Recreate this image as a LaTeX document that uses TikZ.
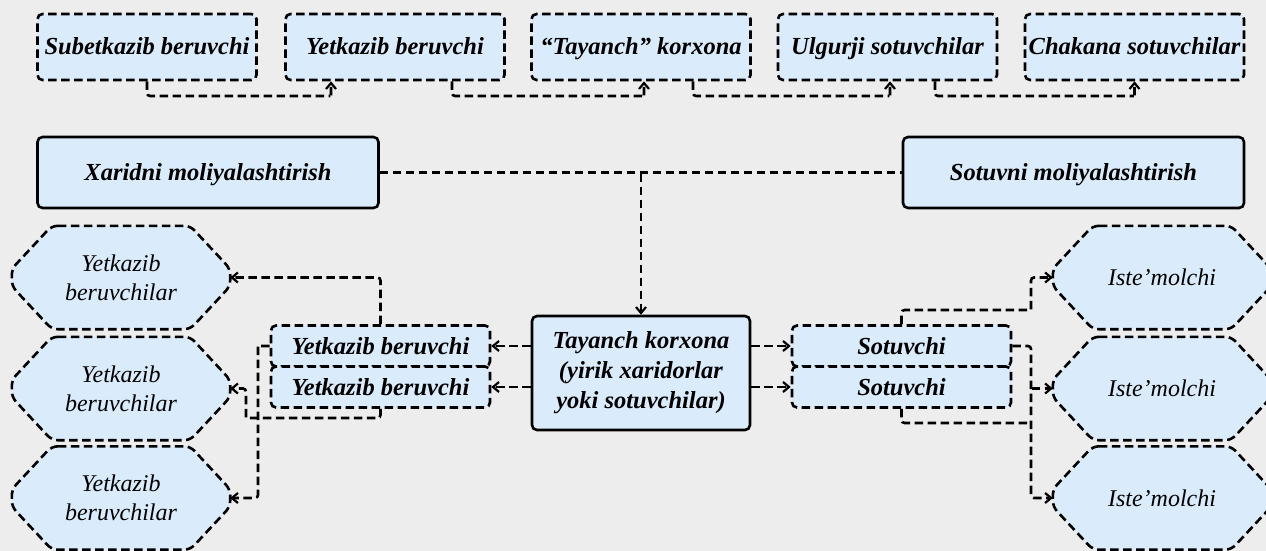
\documentclass[tikz,border=0pt]{standalone}
\usepackage{fontspec}
\setmainfont{Liberation Serif}
\usepackage{tikz}
\usetikzlibrary{arrows.meta}
\pgfdeclarelayer{bglayer}
\pgfdeclarelayer{shapelayer}
\pgfsetlayers{bglayer,shapelayer,main}
\tikzstyle{none}=[inner sep=0pt]
\definecolor{hexcolor0xdaebfc}{rgb}{0.855,0.922,0.988}
\definecolor{hexcolor0xededee}{rgb}{0.929,0.929,0.933}
\definecolor{myblack}{rgb}{0.000,0.000,0.000}
\tikzstyle{dashline}=[line width=2.6pt,dash pattern=on 8.5pt off 4.5pt]
\tikzstyle{chain}=[dashline,fill=hexcolor0xdaebfc,draw=myblack,rounded corners=5pt,minimum width=219pt,font=\fontsize{24.5}{30}\selectfont\bfseries\itshape,inner sep=0pt,text height=20pt,text depth=4pt]
\tikzstyle{finance}=[chain,solid,line width=2.6pt,minimum width=341pt,minimum height=71pt]
\tikzstyle{party}=[rectangle,minimum width=218pt,minimum height=103pt,inner sep=0pt,align=center,font=\fontsize{24}{29}\selectfont\itshape]
\tikzstyle{hexline}=[dashline,fill=hexcolor0xdaebfc,draw=myblack,rounded corners=6pt]
\tikzstyle{flow}=[dashline,draw=myblack,rounded corners=3pt]
\tikzstyle{flowto}=[flow,-{Straight Barb[length=6pt,width=10pt,line width=2.2pt]}]

\begin{document}
\begin{tikzpicture}[x=1pt,y=-1pt]
\useasboundingbox (0,0) rectangle (1266,551);
\begin{pgfonlayer}{bglayer}
\fill [hexcolor0xededee] (0,0) rectangle (1266,551);
\end{pgfonlayer}
		\node [style=chain,minimum height=66pt] (0) at (147, 47) {Subetkazib beruvchi};
		\node [style=chain,minimum height=66pt] (1) at (395, 47) {Yetkazib beruvchi};
		\node [style=chain,minimum height=66pt] (2) at (641, 47) {“Tayanch” korxona};
		\node [style=chain,minimum height=66pt] (3) at (887.5, 47) {Ulgurji sotuvchilar};
		\node [style=chain,minimum height=66pt] (4) at (1134.5, 47) {Chakana sotuvchilar};
		\node [style=finance] (5) at (208, 172.5) {Xaridni moliyalashtirish};
		\node [style=finance] (6) at (1073.5, 172.5) {Sotuvni moliyalashtirish};
		\node [style=finance,minimum width=218pt,minimum height=114pt,align=center,text height=,text depth=,font=\fontsize{24.5}{30}\selectfont\bfseries\itshape] (7) at (641, 373) {Tayanch korxona\\(yirik xaridorlar\\yoki sotuvchilar)};
		\node [style=chain,minimum height=41pt] (8) at (380.5, 346) {Yetkazib beruvchi};
		\node [style=chain,minimum height=41pt] (9) at (380.5, 387) {Yetkazib beruvchi};
		\node [style=party] (10) at (121, 277.5) {Yetkazib\\beruvchilar};
		\node [style=party] (11) at (121, 388.5) {Yetkazib\\beruvchilar};
		\node [style=party] (12) at (121, 498) {Yetkazib\\beruvchilar};
		\node [style=chain,minimum height=41pt] (13) at (901.5, 346) {Sotuvchi};
		\node [style=chain,minimum height=41pt] (14) at (901.5, 387) {Sotuvchi};
		\node [style=party] (15) at (1162, 277.5) {Iste’molchi};
		\node [style=party] (16) at (1162, 388.5) {Iste’molchi};
		\node [style=party] (17) at (1162, 498) {Iste’molchi};
\begin{pgfonlayer}{shapelayer}
\foreach \n in {10,11,12,15,16,17}
	\draw [style=hexline] ([xshift=40pt]\n.north west) -- ([xshift=-40pt]\n.north east) -- ([yshift=-43pt]\n.north east) -- ([yshift=43pt]\n.south east) -- ([xshift=-40pt]\n.south east) -- ([xshift=40pt]\n.south west) -- ([yshift=43pt]\n.south west) -- ([yshift=-43pt]\n.north west) -- cycle;
\end{pgfonlayer}
% bends
\node [none] (v1) at (331, 96) {};
\node [none] (v2) at (644, 96) {};
\node [none] (v3) at (890, 96) {};
\node [none] (v4) at (1134.5, 96) {};
\node [none] (v5) at (641, 173) {};
\node [none] (v6) at (246, 418) {};
\node [none] (v7) at (258, 346) {};
\node [none] (v8) at (1031, 310) {};
\node [none] (v9) at (1031, 420) {};
\node [none] (v10) at (1031, 423) {};
\node [none] (v11) at (1031, 388.5) {};
		\draw [style=flowto] (0.south) |- (v1) -- (v1 |- 1.south);
		\draw [style=flowto] ([xshift=57pt]1.south) |- (v2) -- (v2 |- 2.south);
		\draw [style=flowto] ([xshift=52pt]2.south) |- (v3) -- (v3 |- 3.south);
		\draw [style=flowto] ([xshift=47.5pt]3.south) |- (v4) -- (4.south);
		\draw [style=flow] (5.east) to (6.west);
		\draw [style=flowto] (v5) to (7.north);
		\draw [style=flowto] (7.west |- 8.east) to (8.east);
		\draw [style=flowto] (7.west |- 9.east) to (9.east);
		\draw [style=flowto] (7.east |- 13.west) to (13.west);
		\draw [style=flowto] (7.east |- 14.west) to (14.west);
		\draw [style=flowto] (8.north) |- (10.east);
		\draw [style=flowto] (9.south) |- (v6) |- (11.east);
		\draw [style=flowto] (8.west) -- (v7) |- (12.east);
		\draw [style=flowto] (13.north) |- (v8) |- (15.west);
		\draw [style=flowto] (13.east) -| (v9) |- (17.west);
		\draw [style=flow] (14.south) |- (v10);
		\draw [style=flowto] (v11) to (16.west);
\end{tikzpicture}
\end{document}
